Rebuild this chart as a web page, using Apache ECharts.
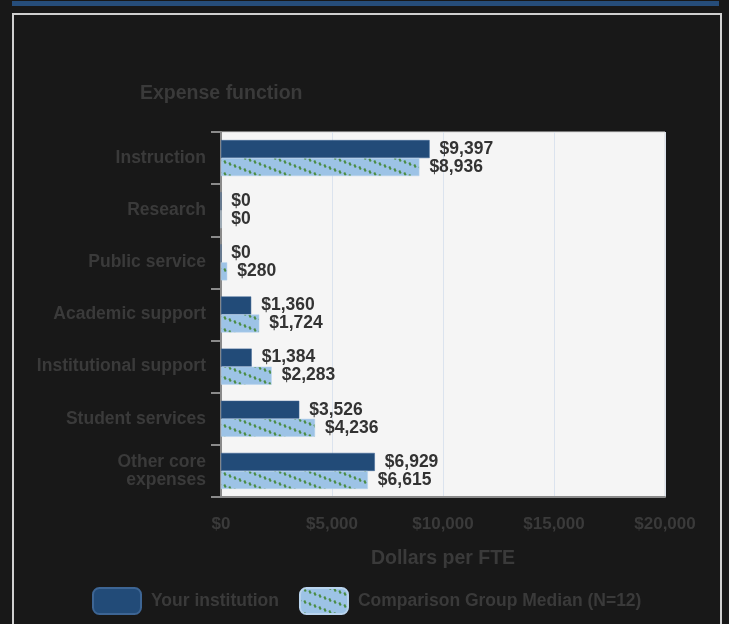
<!DOCTYPE html>
<html><head><meta charset="utf-8">
<script src="https://cdn.jsdelivr.net/npm/echarts@6/dist/echarts.min.js"></script>
<style>
html,body{margin:0;padding:0;background:#181818;width:729px;height:624px;overflow:hidden;}
#topbar{position:absolute;left:12px;top:1px;width:707px;height:5px;background:#264d7a;}
#box{position:absolute;left:12px;top:13px;width:706px;height:620px;border:2px solid #cfcfcf;border-bottom:none;}
#chart{position:absolute;left:0;top:0;width:729px;height:624px;}
</style></head>
<body>
<div id="topbar"></div>
<div id="box"></div>
<div id="chart"></div>
<script>
const categories = ['Instruction','Research','Public service','Academic support','Institutional support','Student services','Other core\nexpenses'];
const yourInstitution = [9397, 0, 0, 1360, 1384, 3526, 6929];
const comparisonMedian = [8936, 0, 280, 1724, 2283, 4236, 6615];
const xTicks = [0, 5000, 10000, 15000, 20000];
const seriesNames = ['Your institution', 'Comparison Group Median (N=12)'];

function makePattern(){
  const W = 30, H = 12;
  const c = document.createElement('canvas');
  c.width = W; c.height = H;
  const g = c.getContext('2d');
  g.fillStyle = '#9dc3e6';
  g.fillRect(0,0,W,H);
  g.fillStyle = '#4a8c42';
  const n = 6;
  for (let i = 0; i < n; i++) {
    const t = i / n;
    const x = t * W, y = t * H;
    for (const dx of [-W, 0, W]) for (const dy of [-H, 0, H]) {
      g.save();
      g.translate(x + dx, y + dy);
      g.rotate(-0.45);
      g.fillRect(-1, -1.7, 2, 3.4);
      g.restore();
    }
  }
  return c;
}
const pat = makePattern();
const fmt = v => '$' + v.toLocaleString('en-US');
const FONT = '"Liberation Sans", Arial, sans-serif';

const chart = echarts.init(document.getElementById('chart'), null, {renderer:'canvas'});
chart.setOption({
  backgroundColor: 'transparent',
  animation: false,
  title: {
    text: 'Expense function', left: 135, top: 79,
    textStyle: {color:'#3a3a3a', fontSize:19.5, fontWeight:'bold', fontFamily:FONT}
  },
  legend: {
    top: 582, left: 87,
    itemWidth: 48, itemHeight: 26, itemGap: 20,
    icon: 'roundRect',
    textStyle: {color:'#3a3a3a', fontSize:17.5, fontWeight:'bold', fontFamily:FONT, padding:[0,0,0,5]},
    data: seriesNames
  },
  grid: {
    left: 221, right: 64, top: 132, bottom: 127,
    show: true, backgroundColor: '#f5f5f5', borderColor: '#d8d8d8', borderWidth: 1
  },
  xAxis: {
    type: 'value', min: 0, max: 20000, interval: 5000,
    name: 'Dollars per FTE', nameLocation: 'middle', nameGap: 52,
    nameTextStyle: {color:'#3a3a3a', fontSize:19.5, fontWeight:'bold', fontFamily:FONT},
    axisLine: {show:true, lineStyle:{color:'#8a8a8a', width:2}},
    axisTick: {show:false},
    splitLine: {show:true, lineStyle:{color:'#dbe3ee', width:1}},
    axisLabel: {
      margin: 19, color:'#3a3a3a', fontSize:17, fontWeight:'bold', fontFamily:FONT,
      formatter: v => xTicks.includes(v) ? fmt(v) : ''
    }
  },
  yAxis: {
    type: 'category', data: categories, inverse: true,
    axisLine: {show:true, lineStyle:{color:'#8a8a8a', width:2}},
    axisTick: {show:true, length:10, lineStyle:{color:'#8a8a8a', width:2}},
    axisLabel: {margin: 15, color:'#3a3a3a', fontSize:17.5, fontWeight:'bold', fontFamily:FONT, lineHeight:18}
  },
  series: [
    {
      name: seriesNames[0], type: 'bar', data: yourInstitution,
      barWidth: 18, barGap: '0%',
      itemStyle: {color:'#224b78', borderColor:'#3d6594', borderWidth:0.5},
      label: {show:true, position:'right', distance:10, formatter: p => fmt(p.value),
        color:'#333', fontSize:17.5, fontWeight:'bold', fontFamily:FONT}
    },
    {
      name: seriesNames[1], type: 'bar', data: comparisonMedian,
      barWidth: 18, barGap: '0%',
      itemStyle: {color:{image: pat, repeat:'repeat'}, borderColor:'#b9d4ee', borderWidth:0.5},
      label: {show:true, position:'right', distance:10, formatter: p => fmt(p.value),
        color:'#333', fontSize:17.5, fontWeight:'bold', fontFamily:FONT}
    }
  ]
});
</script>
</body></html>
